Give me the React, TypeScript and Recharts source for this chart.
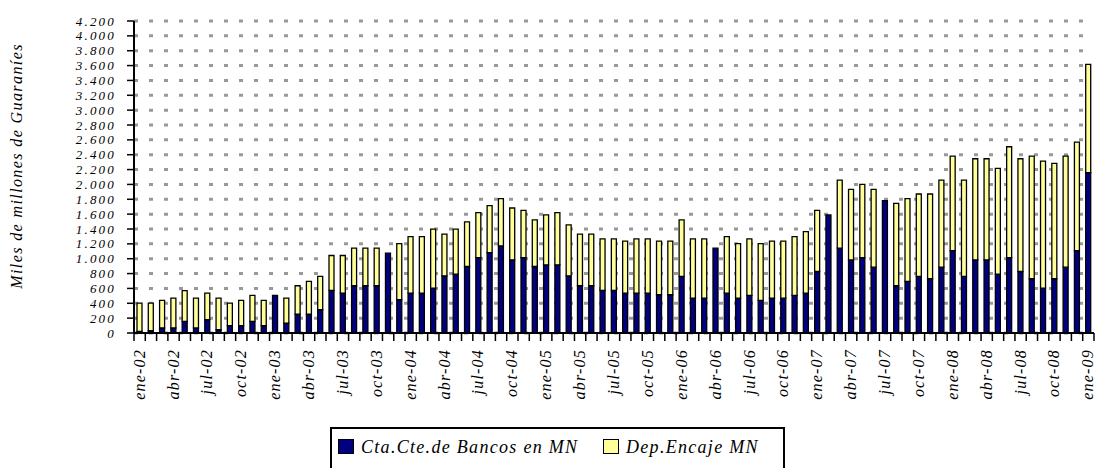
import { BarChart, Bar, XAxis, YAxis, CartesianGrid, Label } from 'recharts';

const months = ['ene', 'feb', 'mar', 'abr', 'may', 'jun', 'jul', 'ago', 'sep', 'oct', 'nov', 'dic'];
const years = ['02', '03', '04', '05', '06', '07', '08'];

// ene-02 .. ene-09
const categories: string[] = [
  ...years.flatMap((yr) => months.map((m) => `${m}-${yr}`)),
  'ene-09',
];

// Cta.Cte.de Bancos en MN (miles de millones de Gs.)
const ctaCte = [
  20, 30, 67, 67, 157, 67, 179, 45, 98, 98, 157, 98,
  506, 134, 255, 255, 313, 573, 537, 636, 636, 636, 1074, 448,
  537, 537, 604, 770, 792, 895, 1016, 1083, 1173, 985, 1016, 895,
  918, 918, 770, 636, 636, 573, 573, 537, 537, 537, 515, 515,
  761, 470, 470, 1142, 537, 470, 506, 439, 470, 470, 506, 537,
  828, 1589, 1142, 985, 1016, 886, 1782, 636, 694, 761, 730, 886,
  1110, 761, 985, 985, 792, 1016, 828, 730, 604, 730, 886, 1110,
  2158,
];

// Dep.Encaje MN
const encaje = [
  383, 373, 373, 403, 413, 403, 358, 425, 305, 342, 349, 342,
  0, 336, 381, 439, 448, 470, 506, 506, 506, 506, 0, 756,
  761, 761, 793, 560, 605, 600, 605, 632, 636, 698, 636, 627,
  671, 703, 685, 694, 694, 694, 694, 699, 730, 730, 721, 721,
  761, 797, 797, 0, 761, 734, 761, 765, 766, 766, 792, 828,
  824, 0, 917, 949, 985, 1048, 0, 1110, 1115, 1110, 1141, 1173,
  1272, 1298, 1361, 1361, 1424, 1491, 1518, 1652, 1711, 1553, 1496, 1460,
  1459,
];

const yTicks = [
  0, 200, 400, 600, 800, 1000, 1200, 1400, 1600, 1800, 2000, 2200,
  2400, 2600, 2800, 3000, 3200, 3400, 3600, 3800, 4000, 4200,
];

const data = categories.map((mes, i) => ({ mes, ctaCte: ctaCte[i], encaje: encaje[i] }));

const FONT = '"Liberation Serif", "DejaVu Serif", serif';
const NAVY = '#000080';
const YELLOW = '#FFFF99';

const fmtMiles = (v: number) => String(v).replace(/\B(?=(\d{3})+(?!\d))/g, '.');

const YTick = ({ x, y, payload }: any) => (
  <text
    x={x}
    y={y}
    dy={4.5}
    textAnchor="end"
    fontFamily={FONT}
    fontStyle="italic"
    fontSize={13}
    letterSpacing={2.2}
    fill="#000"
  >
    {fmtMiles(payload.value)}
  </text>
);

const XTick = ({ x, y, payload, index }: any) => {
  const half = payload?.offset ?? 5.65;
  const last = index === categories.length - 1;
  return (
    <g>
      <line x1={x - half} x2={x - half} y1={y} y2={y + 8} stroke="#000" strokeWidth={1.5} />
      {last && <line x1={x + half} x2={x + half} y1={y} y2={y + 8} stroke="#000" strokeWidth={1.5} />}
      {index % 3 === 0 && (
        <text
          transform={`translate(${x + 5},${y + 16}) rotate(-90)`}
          textAnchor="end"
          fontFamily={FONT}
          fontStyle="italic"
          fontSize={16}
          letterSpacing={1.2}
          fill="#000"
        >
          {payload.value}
        </text>
      )}
    </g>
  );
};

const YTitle = () => (
  <text
    transform="translate(22,166) rotate(-90)"
    textAnchor="middle"
    fontFamily={FONT}
    fontStyle="italic"
    fontSize={16}
    letterSpacing={1.4}
    fill="#000"
  >
    Miles de millones de Guaraníes
  </text>
);

export default function App() {
  return (
    <div
      style={{
        position: 'absolute',
        left: 0,
        top: 0,
        width: 1095,
        height: 468,
        overflow: 'hidden',
        background: '#fff',
      }}
    >
      <BarChart
        width={1095}
        height={468}
        data={data}
        margin={{ top: 21, right: 1, left: 0, bottom: 0 }}
        barSize={5}
      >
        <CartesianGrid vertical={false} stroke="#999" strokeWidth={3} strokeDasharray="4 11" />
        <XAxis
          dataKey="mes"
          interval={0}
          height={135}
          tickLine={false}
          tickSize={0}
          tickMargin={0}
          axisLine={{ stroke: '#000', strokeWidth: 2 }}
          tick={<XTick />}
        />
        <YAxis
          width={134}
          domain={[0, 4200]}
          ticks={yTicks}
          interval={0}
          tickSize={7}
          tickMargin={11}
          axisLine={{ stroke: '#000', strokeWidth: 2 }}
          tickLine={{ stroke: '#000', strokeWidth: 1.5 }}
          tick={<YTick />}
        >
          <Label content={<YTitle />} />
        </YAxis>
        <Bar dataKey="ctaCte" stackId="a" fill={NAVY} stroke="#000" strokeWidth={1.3} isAnimationActive={false} />
        <Bar dataKey="encaje" stackId="a" fill={YELLOW} stroke="#000" strokeWidth={1.3} isAnimationActive={false} />
      </BarChart>
      <div
        style={{
          position: 'absolute',
          left: 330,
          top: 427,
          width: 451,
          height: 50,
          border: '2px solid #000',
          background: '#fff',
          fontFamily: FONT,
          fontStyle: 'italic',
          fontSize: 18,
          letterSpacing: 1.3,
          color: '#000',
        }}
      >
        <div style={{ position: 'absolute', left: 6, top: 10, width: 14, height: 13, background: NAVY, border: '1.5px solid #000' }} />
        <div style={{ position: 'absolute', left: 29, top: 8, lineHeight: '20px', whiteSpace: 'nowrap' }}>Cta.Cte.de Bancos en MN</div>
        <div style={{ position: 'absolute', left: 271, top: 10, width: 14, height: 13, background: YELLOW, border: '1.5px solid #000' }} />
        <div style={{ position: 'absolute', left: 294, top: 8, lineHeight: '20px', whiteSpace: 'nowrap' }}>Dep.Encaje MN</div>
      </div>
    </div>
  );
}
